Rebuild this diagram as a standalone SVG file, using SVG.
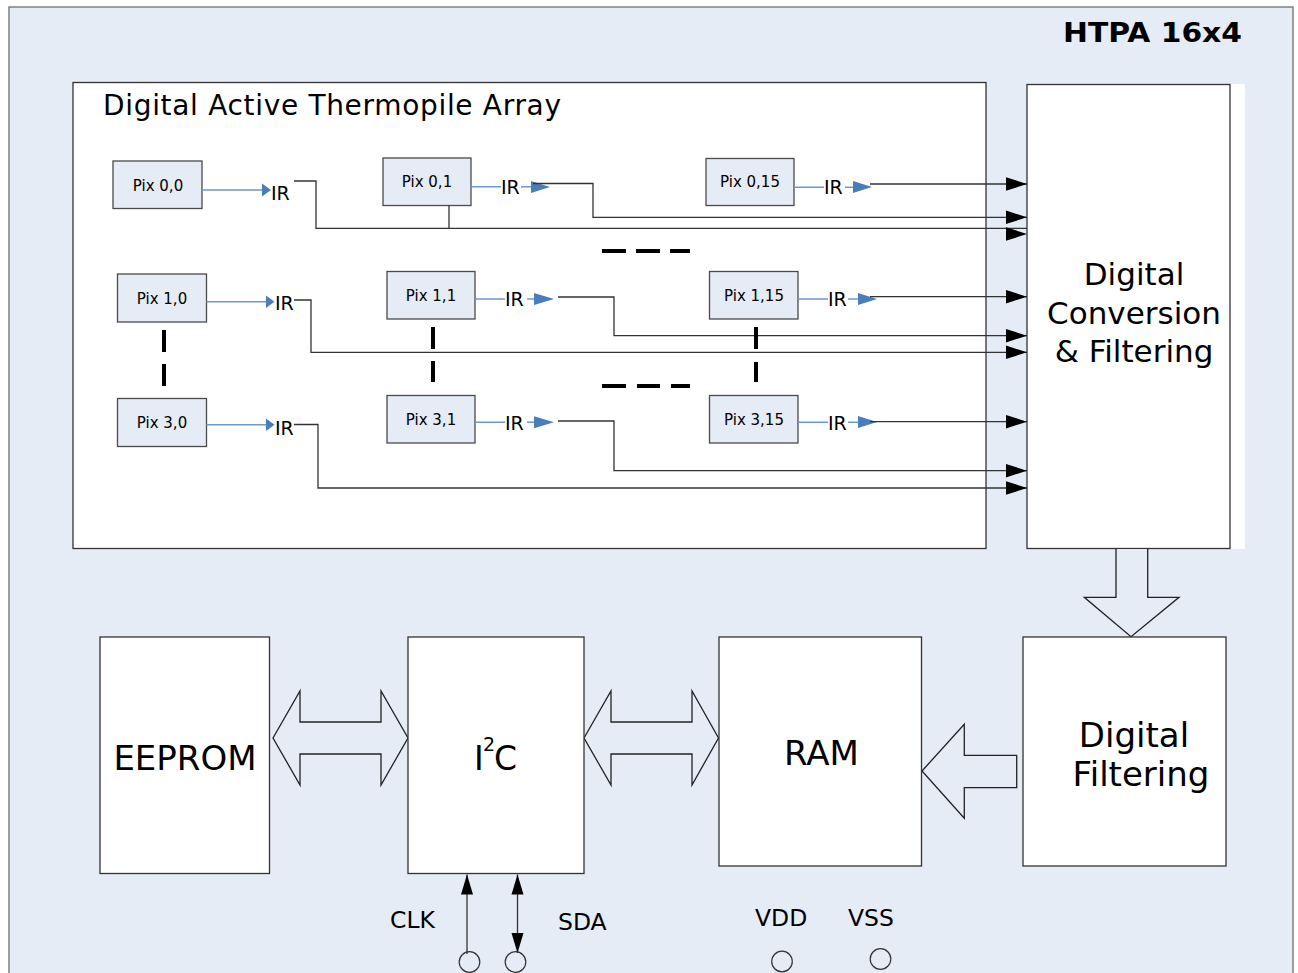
<svg xmlns="http://www.w3.org/2000/svg" width="1298" height="973" viewBox="0 0 1298 973">
<style>
text{font-family:"DejaVu Sans","Verdana",sans-serif;fill:#000}
.pix rect{fill:#E6ECF6;stroke:#4a4a4a;stroke-width:1.3}
.pix text{font-size:15px;text-anchor:middle}
.ir{font-size:19px}
.blk{fill:#fff;stroke:#333;stroke-width:1.3}
.wire{fill:none;stroke:#333;stroke-width:1.3}
.blue{fill:none;stroke:#6E98CF;stroke-width:1.5}
.bh{fill:#4A7EBB}
.dash{stroke:#000;stroke-width:4}
.fat{fill:#E6ECF6;stroke:#222;stroke-width:1.3;stroke-linejoin:miter}
.big{font-size:34px;text-anchor:middle}
.pin{font-size:23.5px}
.circ{fill:none;stroke:#333;stroke-width:1.2}
</style>
<defs>
<marker id="ah" markerUnits="userSpaceOnUse" markerWidth="24" markerHeight="16" viewBox="-22 -8 24 16" refX="0" refY="0" orient="auto">
<path d="M-21,-6.8 L0,0 L-21,6.8 z" fill="#000"/>
</marker>
<marker id="ahs" markerUnits="userSpaceOnUse" markerWidth="24" markerHeight="16" viewBox="-22 -8 24 16" refX="0" refY="0" orient="auto-start-reverse">
<path d="M-20,-6 L0,0 L-20,6 z" fill="#000"/>
</marker>
</defs>

<!-- outer frame -->
<rect id="frame" x="9" y="7" width="1284" height="990" fill="#E6ECF6" stroke="#808080" stroke-width="1.5"/>
<text x="1063" y="42" style="font-size:27px;font-weight:bold" textLength="179" lengthAdjust="spacingAndGlyphs">HTPA 16x4</text>

<!-- array -->
<g id="array">
<rect x="73" y="82.5" width="913" height="466" class="blk"/>
<text x="103" y="115" style="font-size:28px" textLength="458" lengthAdjust="spacing">Digital Active Thermopile Array</text>
</g>

<!-- conversion -->
<g id="conversion">
<rect x="1027" y="84" width="218" height="465" fill="#fff"/>
<rect x="1027" y="84.5" width="203" height="464" class="blk"/>
<text x="1134" y="285" style="font-size:31px;text-anchor:middle">Digital</text>
<text x="1134" y="324" style="font-size:31px;text-anchor:middle">Conversion</text>
<text x="1134" y="362" style="font-size:31px;text-anchor:middle">&amp; Filtering</text>
</g>

<!-- pixels -->
<g id="pix00" class="pix"><rect x="113" y="161" width="89" height="47.5"/><text x="158" y="190.5">Pix 0,0</text></g>
<g id="pix01" class="pix"><rect x="383" y="158" width="88" height="47.5"/><text x="427" y="187">Pix 0,1</text></g>
<g id="pix015" class="pix"><rect x="706" y="158.5" width="88" height="47"/><text x="750" y="187">Pix 0,15</text></g>
<g id="pix10" class="pix"><rect x="117.5" y="274" width="89" height="48"/><text x="162" y="304">Pix 1,0</text></g>
<g id="pix11" class="pix"><rect x="387" y="271.5" width="88" height="47.5"/><text x="431" y="301">Pix 1,1</text></g>
<g id="pix115" class="pix"><rect x="709.5" y="271.5" width="88.5" height="47.5"/><text x="754" y="301">Pix 1,15</text></g>
<g id="pix30" class="pix"><rect x="117.5" y="398.5" width="89" height="48"/><text x="162" y="428">Pix 3,0</text></g>
<g id="pix31" class="pix"><rect x="387" y="395.5" width="88" height="47.5"/><text x="431" y="425">Pix 3,1</text></g>
<g id="pix315" class="pix"><rect x="709.5" y="395.5" width="88.5" height="47.5"/><text x="754" y="425">Pix 3,15</text></g>

<!-- IR labels and blue arrows -->
<g id="ir-signals">
<path class="blue" d="M202,190 H265 M206.5,301.7 H268 M206.5,424.7 H268"/>
<path class="blue" d="M471,186.7 H501 M521,186.7 H535 M475,299 H505 M527,299 H537 M475,422.3 H505 M527,422.3 H537"/>
<path class="blue" d="M794,187.3 H824 M845,187.3 H856 M798,299 H828 M848,299 H860 M798,422.3 H828 M848,422.3 H860"/>
<path class="bh" d="M262,183.5 L271,190 L262,196.5 z M266,295.5 L274.5,301.7 L266,308 z M266,418.5 L274.5,424.7 L266,431 z"/>
<path class="bh" d="M531,181 L550,187 L531,193 z M534,293 L554,299 L534,305 z M534,416.3 L554,422.3 L534,428.3 z"/>
<path class="bh" d="M853,181 L872,187 L853,193 z M858,293 L877,299 L858,305 z M858,416 L877,422 L858,428 z"/>
<text class="ir" x="271" y="200">IR</text>
<text class="ir" x="501" y="194">IR</text>
<text class="ir" x="824" y="194">IR</text>
<text class="ir" x="275" y="310">IR</text>
<text class="ir" x="505" y="305.5">IR</text>
<text class="ir" x="828" y="305.5">IR</text>
<text class="ir" x="275" y="434.5">IR</text>
<text class="ir" x="505" y="429.5">IR</text>
<text class="ir" x="828" y="429.5">IR</text>
</g>

<!-- connectors -->
<g id="connectors">
<path class="wire" marker-end="url(#ah)" d="M870,184 H1027"/>
<path class="wire" marker-end="url(#ah)" d="M533,183.5 H593 V217.3 H1027"/>
<path class="wire" d="M294,181 H316 V228.3 H1027 M449,205.5 V228.3"/>
<path d="M1006,227.2 L1027,234 L1006,240.8 z" fill="#000"/>
<path class="wire" marker-end="url(#ah)" d="M870,296.7 H1027"/>
<path class="wire" marker-end="url(#ah)" d="M558,297 H614 V335.7 H1027"/>
<path class="wire" marker-end="url(#ah)" d="M294,300 H311 V352.3 H1027"/>
<path class="wire" marker-end="url(#ah)" d="M870,421.7 H1027"/>
<path class="wire" marker-end="url(#ah)" d="M558,421 H614 V470.7 H1027"/>
<path class="wire" marker-end="url(#ah)" d="M294,424.5 H318 V488 H1027"/>
<!-- dashes -->
<path class="dash" d="M602,251 H626 M636,251 H660 M670,251 H690 M602,386 H626 M637,386 H660 M671,386 H690"/>
<path class="dash" d="M164,330 V352 M164,364 V386 M433,327 V349 M433,361 V382 M756,327 V349 M756,362 V382"/>
<!-- block arrows -->
<path class="fat" d="M1116,549 V597.3 H1084.3 L1131,636.7 L1179,597.3 H1147.7 V549"/>
<path class="fat" d="M273,738 L300,691 V722 H381 V691 L408,738 L381,785 V754 H300 V785 z"/>
<path class="fat" d="M584,738 L611,691 V722 H692 V691 L718.5,738 L692,785 V754 H611 V785 z"/>
<path class="fat" d="M922,771 L964.3,724.3 V755.3 H1016.7 V787.7 H964.3 V818.3 z"/>
<!-- pins -->
<path class="wire" marker-end="url(#ahs)" d="M467,954 V874.5"/>
<path class="wire" marker-start="url(#ahs)" marker-end="url(#ahs)" d="M517.5,953 V874.5"/>
</g>

<!-- lower blocks -->
<g id="eeprom"><rect x="100" y="637" width="169.5" height="236.5" class="blk"/><text class="big" x="185" y="770">EEPROM</text></g>
<g id="i2c"><rect x="408" y="637" width="176" height="236.5" class="blk"/>
<text x="474" y="770" style="font-size:33px">I</text><text x="483" y="751" style="font-size:19px">2</text><text x="494" y="770" style="font-size:33px">C</text></g>
<g id="ram"><rect x="719" y="637" width="202.5" height="229" class="blk"/><text class="big" x="821.5" y="765">RAM</text></g>
<g id="filtering"><rect x="1023" y="637" width="203" height="229" class="blk"/>
<text class="big" x="1134" y="747">Digital</text><text class="big" x="1141" y="786">Filtering</text></g>

<g id="pins">
<text class="pin" x="390" y="927.5">CLK</text>
<text class="pin" x="558" y="930">SDA</text>
<text class="pin" x="755" y="926">VDD</text>
<text class="pin" x="848" y="926">VSS</text>
<circle class="circ" cx="469.5" cy="962" r="10.3"/>
<circle class="circ" cx="515.5" cy="962" r="10.3"/>
<circle class="circ" cx="782" cy="961.5" r="10.3"/>
<circle class="circ" cx="880.5" cy="959" r="10.3"/>
</g>
</svg>
